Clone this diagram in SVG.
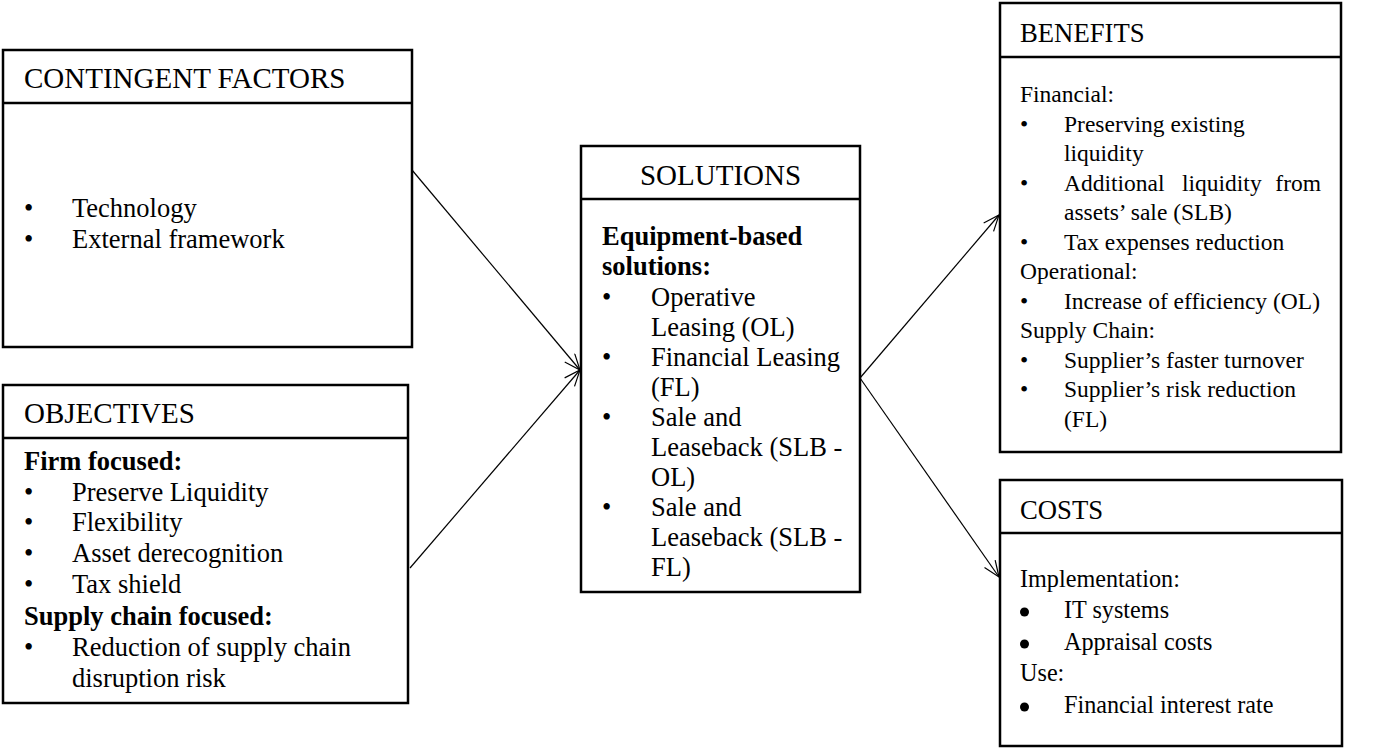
<svg xmlns="http://www.w3.org/2000/svg" width="1385" height="749" viewBox="0 0 1385 749">
  <style>
    .box { fill: #fff; stroke: #000; stroke-width: 2.5; }
    .sep { stroke: #000; stroke-width: 2.5; }
    text { font-family: "Liberation Serif", "Times New Roman", serif; fill: #000; }
    .h { font-size: 29px; }
    .h2 { font-size: 26.7px; }
    .t { font-size: 26.5px; }
    .t2 { font-size: 23.5px; }
    .t3 { font-size: 24.2px; }
    .b { font-weight: bold; }
    .conn { stroke: #000; stroke-width: 1.2; fill: none; marker-end: url(#open); }
  </style>
  <defs>
    <marker id="open" markerUnits="userSpaceOnUse" markerWidth="20" markerHeight="16" refX="17" refY="7" orient="auto">
      <path d="M1,0.5 L17,7 L1,13.5" fill="none" stroke="#000" stroke-width="1.2"/>
    </marker>
  </defs>

  <rect width="1385" height="749" fill="#fff"/>

  <!-- connectors -->
  <g id="connectors">
    <line class="conn" x1="412" y1="170" x2="580" y2="370"/>
    <line class="conn" x1="410" y1="568" x2="580" y2="370"/>
    <line class="conn" x1="860" y1="378" x2="999" y2="215"/>
    <line class="conn" x1="860" y1="378" x2="999" y2="577"/>
  </g>

  <!-- contingent factors -->
  <g id="contingent-factors">
    <rect class="box" x="3" y="50" width="409" height="297"/>
    <line class="sep" x1="3" y1="103" x2="412" y2="103"/>
    <text class="h" x="24" y="88">CONTINGENT FACTORS</text>
    <g class="t">
      <text x="24" y="217">•</text><text x="72" y="217">Technology</text>
      <text x="24" y="248">•</text><text x="72" y="248">External framework</text>
    </g>
  </g>

  <!-- objectives -->
  <g id="objectives">
    <rect class="box" x="3" y="385" width="405" height="318"/>
    <line class="sep" x1="3" y1="438" x2="408" y2="438"/>
    <text class="h" x="24" y="423">OBJECTIVES</text>
    <g class="t">
      <text class="b" x="24" y="470">Firm focused:</text>
      <text x="24" y="501">•</text><text x="72" y="501">Preserve Liquidity</text>
      <text x="24" y="531">•</text><text x="72" y="531">Flexibility</text>
      <text x="24" y="562">•</text><text x="72" y="562">Asset derecognition</text>
      <text x="24" y="593">•</text><text x="72" y="593">Tax shield</text>
      <text class="b" x="24" y="625">Supply chain focused:</text>
      <text x="24" y="656">•</text><text x="72" y="656">Reduction of supply chain</text>
      <text x="72" y="687">disruption risk</text>
    </g>
  </g>

  <!-- solutions -->
  <g id="solutions">
    <rect class="box" x="581" y="146" width="279" height="446"/>
    <line class="sep" x1="581" y1="199" x2="860" y2="199"/>
    <text class="h" x="720.5" y="185" text-anchor="middle">SOLUTIONS</text>
    <g class="t">
      <text class="b" x="602" y="245">Equipment-based</text>
      <text class="b" x="602" y="275">solutions:</text>
      <text x="602" y="306">•</text><text x="651" y="306">Operative</text>
      <text x="651" y="336">Leasing (OL)</text>
      <text x="602" y="366">•</text><text x="651" y="366">Financial Leasing</text>
      <text x="651" y="396">(FL)</text>
      <text x="602" y="426">•</text><text x="651" y="426">Sale and</text>
      <text x="651" y="456">Leaseback (SLB -</text>
      <text x="651" y="486">OL)</text>
      <text x="602" y="516">•</text><text x="651" y="516">Sale and</text>
      <text x="651" y="546">Leaseback (SLB -</text>
      <text x="651" y="576">FL)</text>
    </g>
  </g>

  <!-- benefits -->
  <g id="benefits">
    <rect class="box" x="1000" y="3" width="341" height="449"/>
    <line class="sep" x1="1000" y1="57" x2="1341" y2="57"/>
    <text class="h2" x="1020" y="42">BENEFITS</text>
    <g class="t2">
      <text x="1020" y="102">Financial:</text>
      <text x="1020" y="132">•</text><text x="1064" y="132">Preserving existing</text>
      <text x="1064" y="161">liquidity</text>
      <text x="1020" y="191">•</text><text x="1064" y="191">Additional</text><text x="1182" y="191">liquidity</text><text x="1321" y="191" text-anchor="end">from</text>
      <text x="1064" y="220">assets’ sale (SLB)</text>
      <text x="1020" y="250">•</text><text x="1064" y="250">Tax expenses reduction</text>
      <text x="1020" y="279">Operational:</text>
      <text x="1020" y="309">•</text><text x="1064" y="309">Increase of efficiency (OL)</text>
      <text x="1020" y="338">Supply Chain:</text>
      <text x="1020" y="368">•</text><text x="1064" y="368">Supplier’s faster turnover</text>
      <text x="1020" y="397">•</text><text x="1064" y="397">Supplier’s risk reduction</text>
      <text x="1064" y="427">(FL)</text>
    </g>
  </g>

  <!-- costs -->
  <g id="costs">
    <rect class="box" x="1000" y="480" width="342" height="266"/>
    <line class="sep" x1="1000" y1="533" x2="1342" y2="533"/>
    <text class="h2" x="1020" y="519">COSTS</text>
    <g class="t3">
      <text x="1020" y="587">Implementation:</text>
      <circle cx="1024.5" cy="612" r="4.5"/><text x="1064" y="618">IT systems</text>
      <circle cx="1024.5" cy="644" r="4.5"/><text x="1064" y="650">Appraisal costs</text>
      <text x="1020" y="681">Use:</text>
      <circle cx="1024.5" cy="707" r="4.5"/><text x="1064" y="713">Financial interest rate</text>
    </g>
  </g>
</svg>
